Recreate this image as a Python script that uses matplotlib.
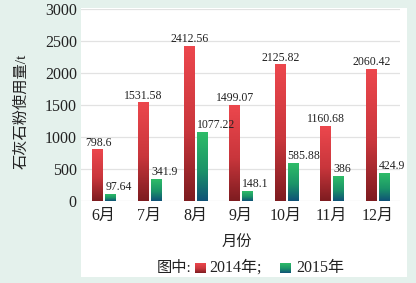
import matplotlib
matplotlib.use('Agg')
import matplotlib.pyplot as plt
import numpy as np
from matplotlib.colors import LinearSegmentedColormap
from matplotlib.patches import Rectangle

plt.rcParams['font.family'] = ['Liberation Serif', 'Noto Sans CJK SC']

months = ['6月', '7月', '8月', '9月', '10月', '11月', '12月']
vals_2014 = [798.6, 1531.58, 2412.56, 1499.07, 2125.82, 1160.68, 2060.42]
vals_2015 = [97.64, 341.9, 1077.22, 148.1, 585.88, 386, 424.9]
labels_2014 = ['798.6', '1531.58', '2412.56', '1499.07', '2125.82', '1160.68', '2060.42']
labels_2015 = ['97.64', '341.9', '1077.22', '148.1', '585.88', '386', '424.9']
yticks = [0, 500, 1000, 1500, 2000, 2500, 3000]

red_cm = LinearSegmentedColormap.from_list('r', [(0, '#7e1c20'), (0.45, '#c9363c'), (1, '#ec474d')])
green_cm = LinearSegmentedColormap.from_list('g', [(0, '#0f5277'), (0.45, '#1b9468'), (1, '#2ebc68')])
grad = np.linspace(0, 1, 100).reshape(-1, 1)

fig = plt.figure(figsize=(4.16, 2.83), dpi=100)
fig.patch.set_facecolor('#e4f1ec')
# white panel behind the plot
fig.patches.append(Rectangle((81 / 416, 1 - 277 / 283), 326 / 416, 269 / 283,
                             transform=fig.transFigure, facecolor='white',
                             edgecolor='none', zorder=-5))

ax = fig.add_axes([81 / 416, 1 - 201 / 283, 319 / 416, 192 / 283])
ax.set_facecolor('none')

x = np.arange(len(months))
w = 0.22
b1 = ax.bar(x - 0.14, vals_2014, w, color='none')
b2 = ax.bar(x + 0.145, vals_2015, w, color='none')

for bars, cm in ((b1, red_cm), (b2, green_cm)):
    for r in bars:
        x0, y0 = r.get_x(), r.get_y()
        ax.imshow(grad, extent=[x0, x0 + r.get_width(), y0, y0 + r.get_height()],
                  origin='lower', aspect='auto', cmap=cm, zorder=3)

# 2014 labels centred on the bar, 2015 labels start at the bar's left edge
for r, t in zip(b1, labels_2014):
    ax.annotate(t, (r.get_x() + r.get_width() / 2, r.get_height()), xytext=(0.5, 1),
                textcoords='offset points', ha='center', va='bottom',
                fontsize=8.5, color='#222', zorder=6)
for r, t in zip(b2, labels_2015):
    ax.annotate(t, (r.get_x(), r.get_height()), xytext=(0, 1),
                textcoords='offset points', ha='left', va='bottom',
                fontsize=8.5, color='#222', zorder=6)

ax.set_xlim(-0.5, len(months) - 0.5)
ax.set_ylim(0, 3000)
ax.set_yticks(yticks)
ax.set_xticks(x)
ax.set_xticklabels(months)
ax.tick_params(length=0, labelsize=11.5, colors='#222')
ax.tick_params(axis='y', pad=3)
ax.tick_params(axis='x', pad=5)
for s in ax.spines.values():
    s.set_visible(False)
ax.grid(axis='y', color='#e2e2e2', linewidth=0.9, zorder=0)
ax.set_axisbelow(True)

fig.text(21 / 416, 1 - 111 / 283, '石灰石粉使用量/t', rotation=90, ha='center', va='center',
         fontsize=11, color='#222')
fig.text(237 / 416, 1 - 243 / 283, '月份', ha='center', va='center', fontsize=11, color='#222')

# legend line
ly = 1 - 268 / 283
fig.text(157 / 416, ly, '图中:', ha='left', va='center', fontsize=11, color='#222')
fig.text(209 / 416, ly, '2014年;', ha='left', va='center', fontsize=11.5, color='#222')
fig.text(296 / 416, ly, '2015年', ha='left', va='center', fontsize=11.5, color='#222')
for px, cm in ((195, red_cm), (280, green_cm)):
    lax = fig.add_axes([px / 416, 1 - 273 / 283, 11 / 416, 10 / 283])
    lax.imshow(grad, origin='lower', aspect='auto', cmap=cm)
    lax.axis('off')

fig.savefig('out.png', dpi=100, facecolor=fig.get_facecolor())
